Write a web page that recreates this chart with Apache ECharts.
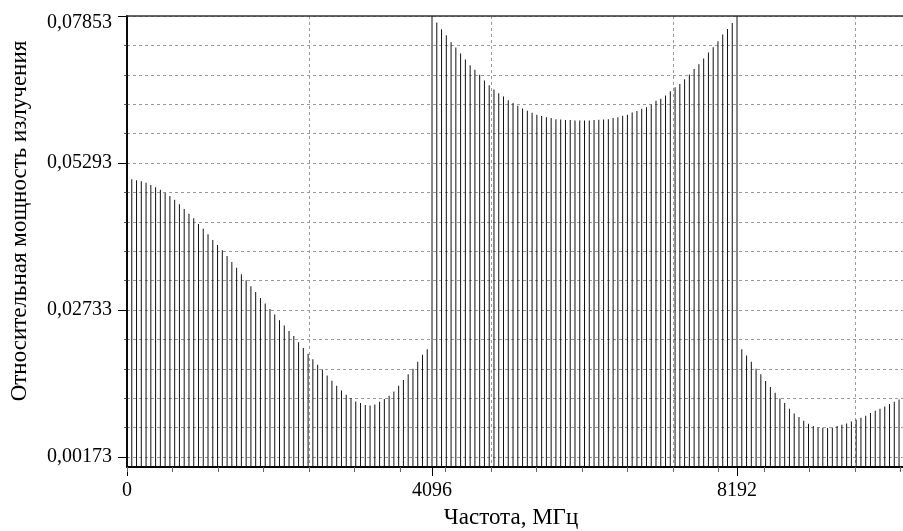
<!DOCTYPE html>
<html>
<head>
<meta charset="utf-8">
<script src="https://cdn.jsdelivr.net/npm/echarts@6/dist/echarts.min.js"></script>
<style>html,body{margin:0;padding:0;background:#fff}#c{width:903px;height:531px}</style>
</head>
<body>
<div id="c"></div>
<script>
// ---- data ----
const BIN_WIDTH = 64;           // MHz between spectral lines
const X_MAX = 10421;            // right edge of the visible axis
const X_LABEL_STEP = 4096;      // labelled ticks: 0, 4096, 8192
const X_GRID_STEP = 2444;       // dashed vertical grid lines
const Y_MIN = 0;
const Y_MAX = 0.07853;
const Y_LABEL_MIN = 0.00173;    // labelled ticks: 0,00173 ... 0,07853
const Y_LABEL_STEP = 0.0256;

// lines 0..63
const band1 = [0.07853, 0.05009, 0.04991, 0.04974, 0.04950, 0.04910, 0.04870, 0.04828, 0.04776, 0.04718,
  0.04654, 0.04574, 0.04492, 0.04410, 0.04330, 0.04231, 0.04150, 0.04052, 0.03953, 0.03866,
  0.03774, 0.03675, 0.03570, 0.03471, 0.03357, 0.03252, 0.03148, 0.03049, 0.02944, 0.02845,
  0.02753, 0.02654, 0.02557, 0.02462, 0.02370, 0.02283, 0.02174, 0.02070, 0.01970, 0.01878,
  0.01779, 0.01697, 0.01593, 0.01501, 0.01414, 0.01332, 0.01257, 0.01200, 0.01141, 0.01113,
  0.01078, 0.01071, 0.01089, 0.01136, 0.01183, 0.01240, 0.01315, 0.01414, 0.01513, 0.01617,
  0.01710, 0.01831, 0.01953, 0.02052];
// lines 64..127
const band2 = [0.07853, 0.07739, 0.07623, 0.07518, 0.07397, 0.07304, 0.07200, 0.07096, 0.06997, 0.06915,
  0.06828, 0.06730, 0.06649, 0.06574, 0.06510, 0.06452, 0.06388, 0.06336, 0.06289, 0.06243,
  0.06202, 0.06167, 0.06132, 0.06110, 0.06092, 0.06075, 0.06057, 0.06052, 0.06040, 0.06040,
  0.06035, 0.06035, 0.06035, 0.06035, 0.06040, 0.06045, 0.06052, 0.06057, 0.06075, 0.06092,
  0.06115, 0.06132, 0.06174, 0.06197, 0.06237, 0.06266, 0.06313, 0.06376, 0.06410, 0.06470,
  0.06544, 0.06614, 0.06671, 0.06753, 0.06835, 0.06932, 0.07014, 0.07113, 0.07217, 0.07310,
  0.07414, 0.07530, 0.07628, 0.07732];
// lines 128..162
const band3 = [0.07853, 0.02052, 0.01941, 0.01831, 0.01710, 0.01617, 0.01496, 0.01391, 0.01292, 0.01193,
  0.01113, 0.01014, 0.00932, 0.00870, 0.00805, 0.00753, 0.00713, 0.00689, 0.00683, 0.00678,
  0.00689, 0.00713, 0.00736, 0.00758, 0.00793, 0.00823, 0.00857, 0.00892, 0.00939, 0.00979,
  0.01014, 0.01054, 0.01096, 0.01136, 0.01176];

const xTitle = 'Частота, МГц';
const yTitle = 'Относительная мощность излучения';

// ---- chart ----
const FONT = '"Liberation Serif", "Times New Roman", serif';
const values = band1.concat(band2, band3);
const barData = values.map((v, i) => [i * BIN_WIDTH, v]);

const GRID_LEFT = 127, GRID_TOP = 16, GRID_W = 776, GRID_H = 451;
const labelGridH = GRID_H * (Y_MAX - Y_LABEL_MIN) / (Y_MAX - Y_MIN);
const dash = { color: '#9a9a9a', width: 1, type: [3, 3] };

const chart = echarts.init(document.getElementById('c'), null, { renderer: 'canvas' });
chart.setOption({
  animation: false,
  backgroundColor: '#fff',
  grid: [
    { left: GRID_LEFT, top: GRID_TOP, width: GRID_W, height: GRID_H, containLabel: false, outerBoundsMode: 'none' },
    { left: GRID_LEFT, top: GRID_TOP, width: GRID_W, height: labelGridH, containLabel: false, outerBoundsMode: 'none' }
  ],
  xAxis: [
    { // labelled bottom axis
      type: 'value', gridIndex: 0, position: 'bottom', min: 0, max: X_MAX, interval: X_LABEL_STEP,
      axisLine: { show: true, lineStyle: { color: '#000', width: 2 } },
      axisTick: { show: true, inside: false, length: 9, lineStyle: { color: '#000', width: 1 } },
      axisLabel: { show: true, margin: 14, color: '#000', fontFamily: FONT, fontSize: 20,
        showMaxLabel: false, formatter: v => String(v) },
      splitLine: { show: false }
    },
    { // dashed vertical grid and minor ticks
      type: 'value', gridIndex: 0, position: 'bottom', min: 0, max: X_MAX, interval: X_GRID_STEP,
      axisLine: { show: false },
      axisTick: { show: true, length: 5, lineStyle: { color: '#666', width: 1 } },
      minorTick: { show: true, splitNumber: 4, length: 5, lineStyle: { color: '#666', width: 1 } },
      axisLabel: { show: false },
      splitLine: { show: true, lineStyle: dash }
    },
    { // top frame line
      type: 'value', gridIndex: 0, position: 'top', min: 0, max: X_MAX,
      axisLine: { show: true, onZero: false, lineStyle: { color: '#333', width: 1.5 } },
      axisTick: { show: false }, axisLabel: { show: false }, splitLine: { show: false }
    },
    { type: 'value', gridIndex: 1, min: 0, max: X_MAX, show: false }
  ],
  yAxis: [
    { // data axis
      type: 'value', gridIndex: 0, position: 'left', min: Y_MIN, max: Y_MAX,
      axisLine: { show: true, onZero: false, lineStyle: { color: '#000', width: 2 } },
      axisTick: { show: false }, axisLabel: { show: false }, splitLine: { show: false }
    },
    { // labelled axis with dashed horizontal grid
      type: 'value', gridIndex: 1, position: 'left', min: Y_LABEL_MIN, max: Y_MAX, interval: Y_LABEL_STEP,
      axisLine: { show: false },
      axisTick: { show: true, length: 9, lineStyle: { color: '#000', width: 1 } },
      minorTick: { show: true, splitNumber: 5, length: 3, lineStyle: { color: '#555', width: 1 } },
      axisLabel: { show: true, margin: 15, color: '#000', fontFamily: FONT, fontSize: 20,
        formatter: v => {
          const s = v.toFixed(5).replace('.', ',');
          return Math.abs(v - Y_MAX) < 1e-9 ? '{top|' + s + '}' : s;
        },
        rich: { top: { color: '#000', fontFamily: FONT, fontSize: 20, padding: [13, 0, 0, 0] } }
      },
      splitLine: { show: true, lineStyle: dash },
      minorSplitLine: { show: true, lineStyle: dash }
    }
  ],
  graphic: [
    { type: 'text', x: 511, y: 506, silent: true,
      style: { text: xTitle, fill: '#000', font: '23px ' + FONT, textAlign: 'center', align: 'center',
        textVerticalAlign: 'top', verticalAlign: 'top' } },
    { type: 'text', x: 20, y: 221, rotation: Math.PI / 2, silent: true,
      style: { text: yTitle, fill: '#000', font: '23px ' + FONT, textAlign: 'center', align: 'center',
        textVerticalAlign: 'middle', verticalAlign: 'middle' } }
  ],
  series: [{
    type: 'bar', xAxisIndex: 0, yAxisIndex: 0, data: barData,
    barWidth: 1, clip: true, silent: true,
    itemStyle: { color: '#111' }
  }]
});
</script>
</body>
</html>
